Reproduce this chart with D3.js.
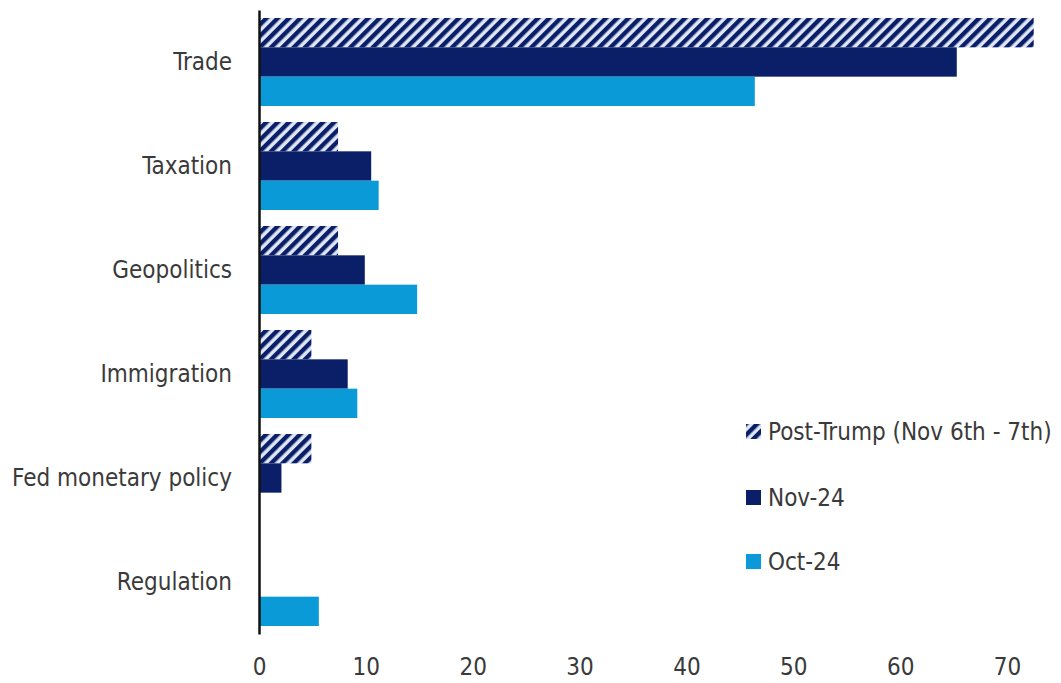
<!DOCTYPE html>
<html>
<head>
<meta charset="utf-8">
<script src="https://cdn.jsdelivr.net/npm/d3@7"></script>
<style>
  body { margin: 0; background: #fff; }
  svg { display: block; }
  text { font-family: "DejaVu Sans Condensed", "Liberation Sans Narrow", sans-serif; fill: #3a3a3a; }
</style>
</head>
<body>
<svg id="chart"></svg>
<script>
// categories and series (values in %)
const categories = ['Trade', 'Taxation', 'Geopolitics', 'Immigration', 'Fed monetary policy', 'Regulation'];
const seriesNames = ['Post-Trump (Nov 6th - 7th)', 'Nov-24', 'Oct-24'];
const postTrump = [72.5, 7.4, 7.4, 4.9, 4.9, 0];
const nov24 = [65.3, 10.5, 9.9, 8.3, 2.1, 0];
const oct24 = [46.4, 11.2, 14.8, 9.2, 0, 5.6];
const xTicks = [0, 10, 20, 30, 40, 50, 60, 70];

const width = 1061;
const height = 683;
const navy = '#0a1f68';
const sky = '#0b9ad8';
const fontSize = '24px';

const svg = d3.select('#chart')
    .attr('width', width)
    .attr('height', height);

// hatch pattern for the post-Trump series
const defs = svg.append('defs');
const pat = defs.append('pattern')
    .attr('id', 'hatch')
    .attr('patternUnits', 'userSpaceOnUse')
    .attr('width', 8)
    .attr('height', 8)
    .attr('patternTransform', 'rotate(45)');
pat.append('rect').attr('width', 8).attr('height', 8).attr('fill', '#dfe6f6');
pat.append('rect').attr('width', 4.4).attr('height', 8).attr('fill', navy);

const series = [
    { name: seriesNames[0], values: postTrump, fill: 'url(#hatch)' },
    { name: seriesNames[1], values: nov24, fill: navy },
    { name: seriesNames[2], values: oct24, fill: sky }
];

const x = d3.scaleLinear()
    .domain([0, 70])
    .range([259, 1007]);

const y0 = d3.scaleBand()
    .domain(categories)
    .range([10, 634]);

const y1 = d3.scaleBand()
    .domain(seriesNames)
    .range([8, y0.bandwidth() - 8]);

// bars
const groups = svg.selectAll('g.cat')
    .data(categories)
    .enter()
    .append('g')
    .attr('class', 'cat')
    .attr('transform', d => `translate(0, ${y0(d)})`);

groups.selectAll('rect')
    .data((d, i) => series.map(s => ({ name: s.name, value: s.values[i], fill: s.fill })))
    .enter()
    .append('rect')
    .attr('x', x(0))
    .attr('y', d => y1(d.name))
    .attr('width', d => x(d.value) - x(0))
    .attr('height', y1.bandwidth())
    .attr('fill', d => d.fill);

// x axis (labels only)
const xAxis = svg.append('g')
    .attr('transform', 'translate(0, 634)')
    .call(d3.axisBottom(x).tickValues(xTicks).tickSize(0).tickPadding(24));
xAxis.select('.domain').remove();
xAxis.selectAll('text')
    .style('font-size', fontSize)
    .attr('fill', '#3a3a3a');

// y axis with black vertical line
const yAxis = svg.append('g')
    .attr('transform', `translate(${x(0)}, 0)`)
    .call(d3.axisLeft(y0).tickSize(0).tickSizeOuter(0).tickPadding(27));
yAxis.select('.domain')
    .attr('stroke', '#111')
    .attr('stroke-width', 2.5);
yAxis.selectAll('text')
    .style('font-size', fontSize)
    .attr('fill', '#3a3a3a');

// legend
const legendY = [432, 498, 562];
const legend = svg.selectAll('g.legend')
    .data(series)
    .enter()
    .append('g')
    .attr('class', 'legend')
    .attr('transform', (d, i) => `translate(746, ${legendY[i]})`);

legend.append('rect')
    .attr('x', 0)
    .attr('y', -8)
    .attr('width', 15)
    .attr('height', 15)
    .attr('fill', d => d.fill);

legend.append('text')
    .attr('x', 22)
    .attr('y', 0)
    .attr('dy', '0.35em')
    .style('font-size', fontSize)
    .text(d => d.name);
</script>
</body>
</html>
